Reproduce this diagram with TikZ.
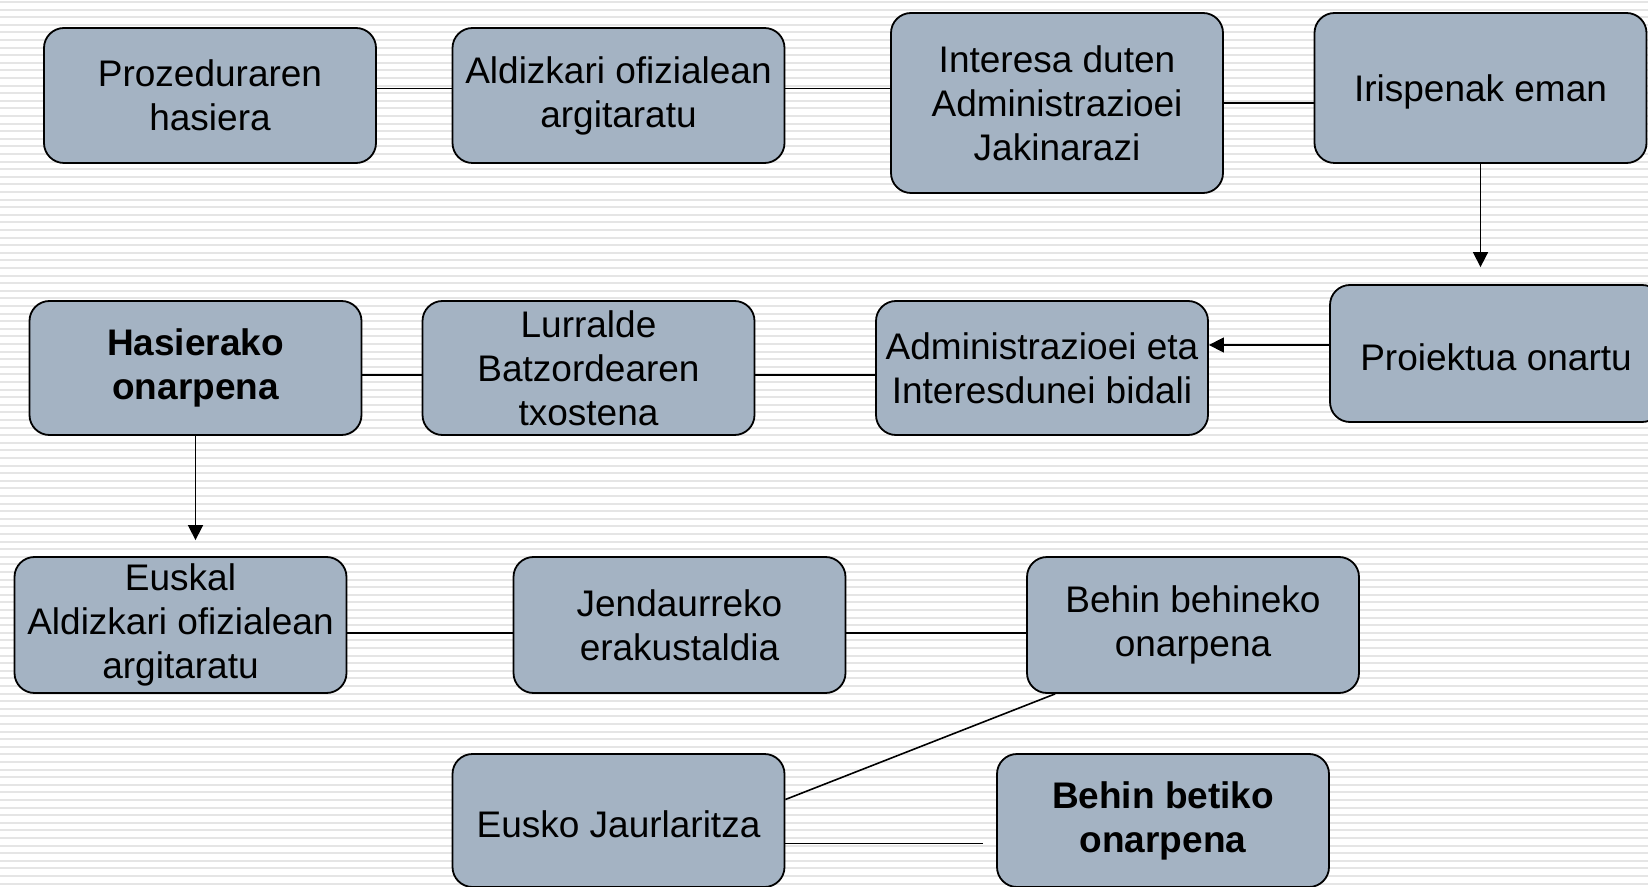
\documentclass[tikz,border=0pt]{standalone}
\usepackage{fontspec}
\setmainfont{Liberation Sans}
\usetikzlibrary{arrows.meta}
\definecolor{boxfill}{RGB}{164,179,195}
\definecolor{stripe}{RGB}{229,229,229}
\tikzset{box/.style={draw, line width=0.9pt, rounded corners=10pt, fill=boxfill,
    minimum width=166pt, align=center, inner sep=0pt,
    font=\fontsize{18.5}{22}\selectfont,
    execute at begin node={\rule{0pt}{17.5pt}}}}

\begin{document}
\begin{tikzpicture}[x=0.5pt,y=-0.5pt]
        \useasboundingbox (0,0) rectangle (1648,887);
        \foreach \k in {0,...,116}
            \fill[stripe] (0,{1+7.6*\k}) rectangle (1648,{3+7.6*\k});
        \node[box, minimum height=67.5pt] (1) at (210,95.5) {Prozeduraren\\hasiera};
        \node[box, minimum height=67.5pt] (2) at (618.5,95.5) {Aldizkari ofizialean\\argitaratu};
        \node[box, minimum height=90pt] (3) at (1057,103) {Interesa duten\\Administrazioei\\Jakinarazi};
        \node[box, minimum height=75pt] (4) at (1480.5,88) {Irispenak eman};
        \node[box, minimum height=68.5pt] (5) at (1496,353.5) {Proiektua onartu};
        \node[box, minimum height=67pt] (6) at (1042,368) {Administrazioei eta\\Interesdunei bidali};
        \node[box, minimum height=67pt] (7) at (588.5,368) {Lurralde\\Batzordearen\\txostena};
        \node[box, minimum height=67pt] (8) at (195.5,368) {\bfseries Hasierako\\\bfseries onarpena};
        \node[box, minimum height=68pt] (9) at (180.5,625) {Euskal\\Aldizkari ofizialean\\argitaratu};
        \node[box, minimum height=68pt] (10) at (679.5,625) {Jendaurreko\\erakustaldia};
        \node[box, minimum height=68pt] (11) at (1193,625) {Behin behineko\\onarpena};
        \node[box, minimum height=66.5pt] (12) at (618.5,820.5) {Eusko Jaurlaritza};
        \node[box, minimum height=66.5pt] (13) at (1163,820.5) {\bfseries Behin betiko\\\bfseries onarpena};
        \path[draw,thick,-] ([yshift=3.5pt]1.east) -- ([yshift=3.5pt]2.west);
        \path[draw,thick,-] ([yshift=3.5pt]2.east) -- ([yshift=3.5pt]2.east -| 3.west);
        \path[draw,thick,-] (3.east) -- (3.east -| 4.west);
        \path[draw,thick,-{Triangle[width=7.5pt,length=7.5pt]},shorten >=8.5pt] (4.south) -- (4.south |- 5.north);
        \path[draw,thick,-{Triangle[width=7.5pt,length=7.5pt]}] ([yshift=4.25pt]5.west) -- ([yshift=4.25pt]5.west -| 6.east);
        \path[draw,thick,-] ([yshift=-3.5pt]6.west) -- ([yshift=-3.5pt]6.west -| 7.east);
        \path[draw,thick,-] ([yshift=-3.5pt]7.west) -- ([yshift=-3.5pt]7.west -| 8.east);
        \path[draw,thick,-{Triangle[width=7.5pt,length=7.5pt]},shorten >=8pt] (8.south) -- (8.south |- 9.north);
        \path[draw,thick,-] ([yshift=-4pt]9.east) -- ([yshift=-4pt]9.east -| 10.west);
        \path[draw,thick,-] ([yshift=-4pt]10.east) -- ([yshift=-4pt]10.east -| 11.west);
        \path[draw,thick,-] ([xshift=14.5pt]11.south west) -- ([yshift=10.5pt]12.east);
        \path[draw,thick,-,shorten >=6.5pt] ([yshift=-11.5pt]12.east) -- ([yshift=-11.5pt]12.east -| 13.west);
    \end{tikzpicture}
\end{document}
